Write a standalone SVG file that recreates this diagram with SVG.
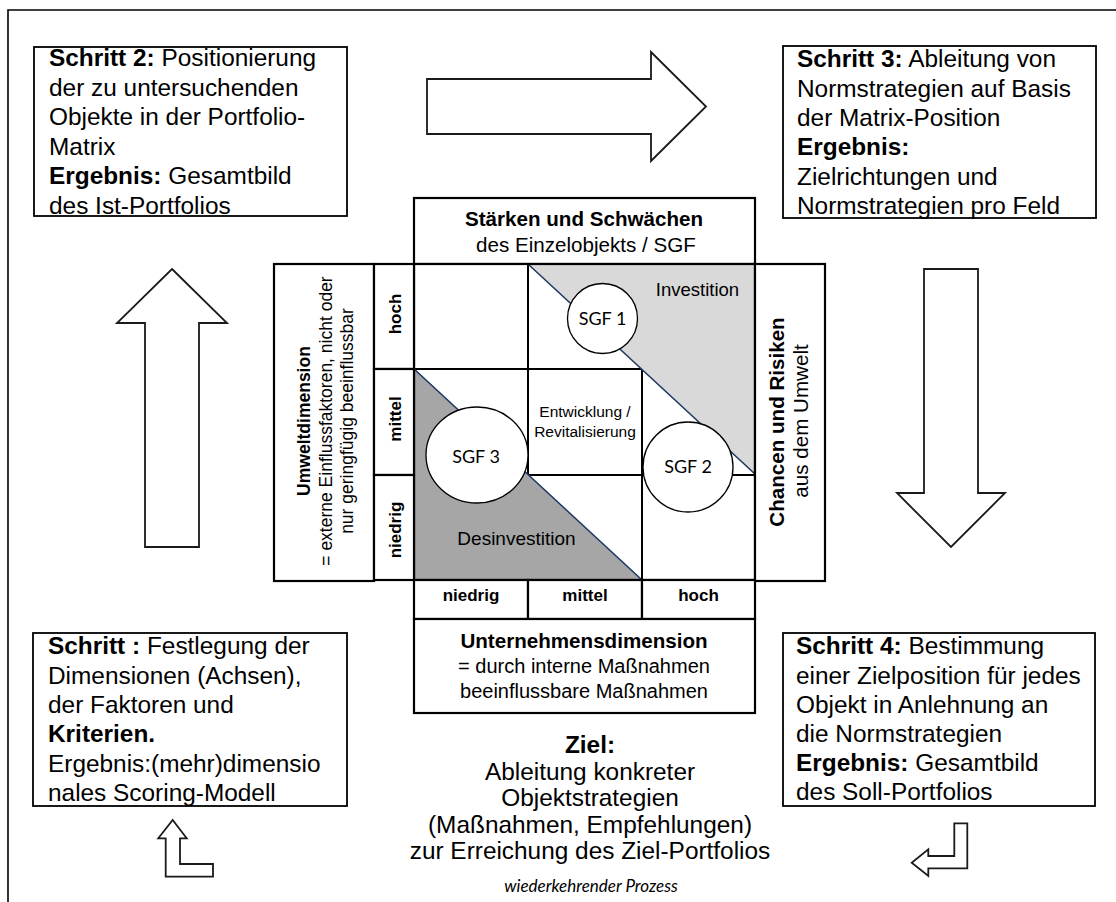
<svg xmlns="http://www.w3.org/2000/svg" width="1116" height="902" viewBox="0 0 1116 902">
  <style>
    text { font-family: "Liberation Sans", Arial, sans-serif; fill: #000; }
    .step { font-size: 24.4px; }
    .b { font-weight: bold; }
    .box { fill: #fff; stroke: #000; stroke-width: 1.8; }
    .mbox { fill: #fff; stroke: #000; stroke-width: 2.2; }
    .grid { fill: none; stroke: #000; stroke-width: 2; }
    .arrow { fill: #fff; stroke: #1a1a1a; stroke-width: 1.8; stroke-linejoin: miter; }
    .tri { stroke: #1f3864; stroke-width: 1.5; }
    .sgf { fill: #fff; stroke: #000; stroke-width: 1.3; }
    .cal { font-family: Lato, "Open Sans", sans-serif; }
  </style>

  <!-- page frame (top and left edge) -->
  <g id="frame">
    <path d="M8,902 V10 H1116" fill="none" stroke="#000" stroke-width="1.6"/>
  </g>

  <!-- process arrows between the steps -->
  <g id="connectors">
    <polygon class="arrow" points="427,79 651,79 651,52 706,106.5 651,161 651,134 427,134"/>
    <polygon class="arrow" points="924,269 978,269 978,493 1005,493 951,547 897,493 924,493"/>
    <polygon class="arrow" points="172,269 227,323 199,323 199,547 145,547 145,323 117,323"/>
    <polygon class="arrow" points="172.7,820 186.7,838.3 180,838.3 180,864 213,864 213,876.7 165.7,876.7 165.7,838.3 158.3,838.3"/>
    <polygon class="arrow" points="954.3,823.3 967.3,823.3 967.3,868.3 928.3,868.3 928.3,876 911.7,862.7 928.3,849.3 928.3,856 954.3,856"/>
  </g>

  <!-- step 2 -->
  <g id="step2">
    <rect class="box" x="34" y="47" width="313" height="169"/>
    <text class="step" x="49" y="66"><tspan class="b">Schritt 2:</tspan> Positionierung</text>
    <text class="step" x="49" y="95.5">der zu untersuchenden</text>
    <text class="step" x="49" y="125">Objekte in der Portfolio-</text>
    <text class="step" x="49" y="154.5">Matrix</text>
    <text class="step" x="49" y="184"><tspan class="b">Ergebnis:</tspan> Gesamtbild</text>
    <text class="step" x="49" y="213.5">des Ist-Portfolios</text>
  </g>

  <!-- step 3 -->
  <g id="step3">
    <rect class="box" x="783" y="46" width="313" height="172"/>
    <text class="step" x="797" y="67"><tspan class="b">Schritt 3:</tspan> Ableitung von</text>
    <text class="step" x="797" y="96.5">Normstrategien auf Basis</text>
    <text class="step" x="797" y="126">der Matrix-Position</text>
    <text class="step" x="797" y="155"><tspan class="b">Ergebnis:</tspan></text>
    <text class="step" x="797" y="184.5">Zielrichtungen und</text>
    <text class="step" x="797" y="213.5">Normstrategien pro Feld</text>
  </g>

  <!-- step 1 -->
  <g id="step1">
    <rect class="box" x="33" y="633" width="314" height="173"/>
    <text class="step" x="48" y="654"><tspan class="b">Schritt :</tspan> Festlegung der</text>
    <text class="step" x="48" y="683.5">Dimensionen (Achsen),</text>
    <text class="step" x="48" y="713">der Faktoren und</text>
    <text class="step" x="48" y="742"><tspan class="b">Kriterien.</tspan></text>
    <text class="step" x="48" y="771.5">Ergebnis:(mehr)dimensio</text>
    <text class="step" x="48" y="801">nales Scoring-Modell</text>
  </g>

  <!-- step 4 -->
  <g id="step4">
    <rect class="box" x="783" y="633" width="312" height="173"/>
    <text class="step" x="796" y="654"><tspan class="b">Schritt 4:</tspan> Bestimmung</text>
    <text class="step" x="796" y="683.5">einer Zielposition für jedes</text>
    <text class="step" x="796" y="713">Objekt in Anlehnung an</text>
    <text class="step" x="796" y="742">die Normstrategien</text>
    <text class="step" x="796" y="771"><tspan class="b">Ergebnis:</tspan> Gesamtbild</text>
    <text class="step" x="796" y="800">des Soll-Portfolios</text>
  </g>

  <!-- top axis header -->
  <g id="strengths">
    <rect class="mbox" x="414" y="198" width="341" height="66"/>
    <text x="584" y="226" font-size="20.6" font-weight="bold" text-anchor="middle">Stärken und Schwächen</text>
    <text x="586" y="252" font-size="20.6" text-anchor="middle">des Einzelobjekts / SGF</text>
  </g>

  <!-- portfolio grid -->
  <g id="matrix">
    <rect x="414" y="264" width="341" height="316" fill="#fff"/>
    <path class="grid" d="M528,264 V580 M642,264 V580 M414,369 H755 M414,475 H755"/>
    <polygon class="tri" fill="#d9d9d9" points="528,264 755,264 755,474"/>
    <polygon class="tri" fill="#a6a6a6" points="414,369 414,580 642,580"/>
    <rect x="414" y="264" width="341" height="316" fill="none" stroke="#000" stroke-width="2.2"/>
    <text x="697.5" y="296" font-size="18.5" text-anchor="middle">Investition</text>
    <text x="516.5" y="545" font-size="19" text-anchor="middle">Desinvestition</text>
    <text x="585" y="417" font-size="15.5" text-anchor="middle">Entwicklung /</text>
    <text x="585" y="437" font-size="15.5" text-anchor="middle">Revitalisierung</text>
  </g>

  <g id="sgf1">
    <circle class="sgf" cx="602.5" cy="318.5" r="35"/>
    <text class="cal" x="602.5" y="325" font-size="18" text-anchor="middle">SGF 1</text>
  </g>
  <g id="sgf2">
    <ellipse class="sgf" cx="688" cy="467" rx="45" ry="45"/>
    <text class="cal" x="688" y="473" font-size="18" text-anchor="middle">SGF 2</text>
  </g>
  <g id="sgf3">
    <ellipse class="sgf" cx="477" cy="455" rx="51" ry="48"/>
    <text class="cal" x="476" y="463" font-size="18" text-anchor="middle">SGF 3</text>
  </g>

  <!-- left axis: environment dimension -->
  <g id="environment">
    <rect class="mbox" x="274" y="264" width="100" height="317"/>
    <text transform="translate(310,421) rotate(-90)" font-size="17.5" font-weight="bold" text-anchor="middle">Umweltdimension</text>
    <text transform="translate(331.5,421) rotate(-90)" font-size="17.5" text-anchor="middle">= externe Einflussfaktoren, nicht oder</text>
    <text transform="translate(352.5,421) rotate(-90)" font-size="17.5" text-anchor="middle">nur geringfügig beeinflussbar</text>
  </g>

  <g id="env-levels">
    <rect class="mbox" x="374" y="264" width="40" height="105"/>
    <rect class="mbox" x="374" y="369" width="40" height="106"/>
    <rect class="mbox" x="374" y="475" width="40" height="105"/>
    <text transform="translate(401,314) rotate(-90)" font-size="17" font-weight="bold" text-anchor="middle">hoch</text>
    <text transform="translate(401,419) rotate(-90)" font-size="17" font-weight="bold" text-anchor="middle">mittel</text>
    <text transform="translate(401,530) rotate(-90)" font-size="17" font-weight="bold" text-anchor="middle">niedrig</text>
  </g>

  <!-- right axis: opportunities and risks -->
  <g id="opportunities">
    <rect class="mbox" x="755" y="264" width="70" height="317"/>
    <text transform="translate(784,422) rotate(-90)" font-size="20.6" font-weight="bold" text-anchor="middle">Chancen und Risiken</text>
    <text transform="translate(808,421) rotate(-90)" font-size="20.6" text-anchor="middle">aus dem Umwelt</text>
  </g>

  <!-- bottom axis: company dimension -->
  <g id="company-levels">
    <rect class="mbox" x="414" y="580" width="114" height="39"/>
    <rect class="mbox" x="528" y="580" width="114" height="39"/>
    <rect class="mbox" x="642" y="580" width="113" height="39"/>
    <text x="471" y="601" font-size="17" font-weight="bold" text-anchor="middle">niedrig</text>
    <text x="585" y="601" font-size="17" font-weight="bold" text-anchor="middle">mittel</text>
    <text x="698.5" y="601" font-size="17" font-weight="bold" text-anchor="middle">hoch</text>
  </g>

  <g id="company">
    <rect class="mbox" x="414" y="619" width="341" height="94"/>
    <text x="584" y="648" font-size="20.6" font-weight="bold" text-anchor="middle">Unternehmensdimension</text>
    <text x="584" y="673" font-size="20" text-anchor="middle">= durch interne Maßnahmen</text>
    <text x="584" y="698" font-size="20" text-anchor="middle">beeinflussbare Maßnahmen</text>
  </g>

  <!-- goal statement -->
  <g id="goal">
    <text x="590" y="753" font-size="24.4" font-weight="bold" text-anchor="middle">Ziel:</text>
    <text x="590" y="779.5" font-size="24.4" text-anchor="middle">Ableitung konkreter</text>
    <text x="590" y="806" font-size="24.4" text-anchor="middle">Objektstrategien</text>
    <text x="590" y="832.5" font-size="24.4" text-anchor="middle">(Maßnahmen, Empfehlungen)</text>
    <text x="590" y="859" font-size="24.4" text-anchor="middle">zur Erreichung des Ziel-Portfolios</text>
  </g>

  <g id="cycle-note">
    <text class="cal" x="591" y="892" font-size="17" font-style="italic" text-anchor="middle">wiederkehrender Prozess</text>
  </g>
</svg>
